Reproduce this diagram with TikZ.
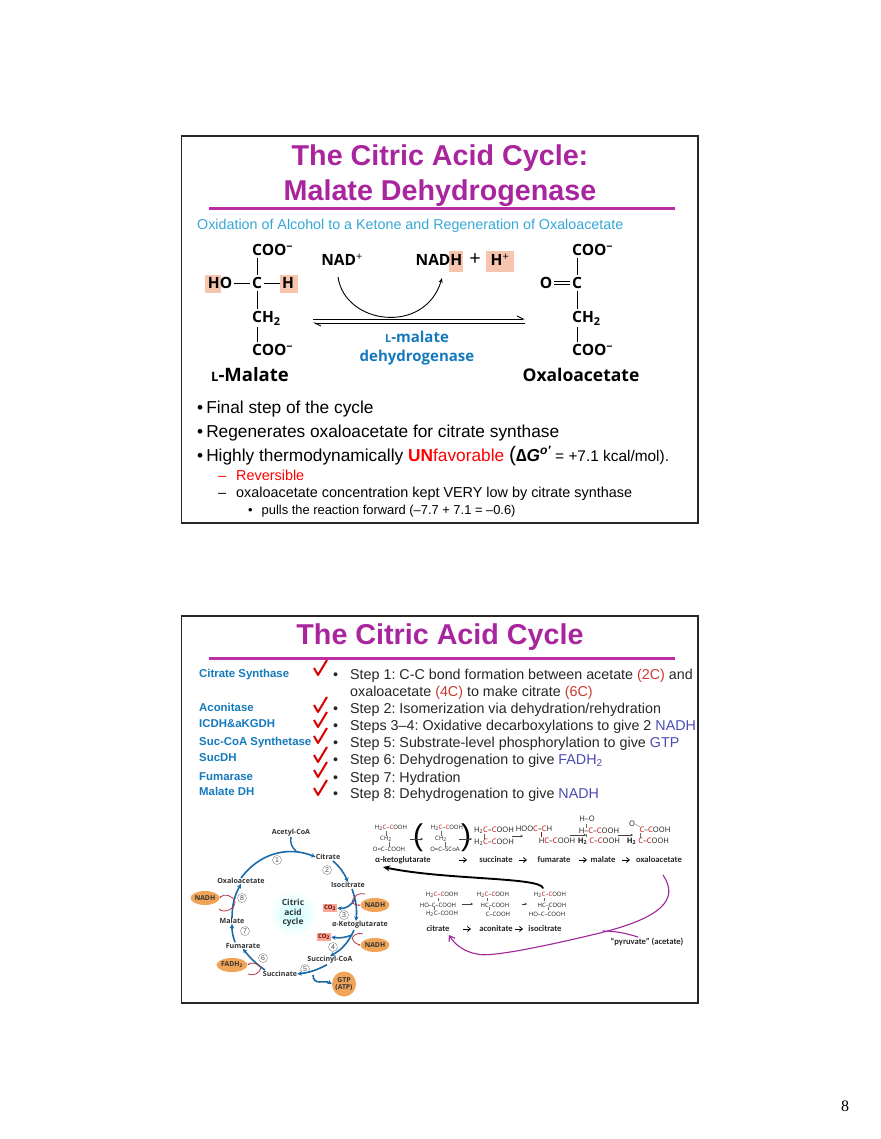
\documentclass[tikz,border=0pt]{standalone}
\usepackage{fontspec}
\setmainfont{Liberation Sans}
\newfontfamily\chemfont{Open Sans}
\newfontfamily\smallfont{Carlito}
\usetikzlibrary{arrows.meta,shapes.geometric}
\definecolor{titlecol}{HTML}{A8259E}
\definecolor{rulecol}{HTML}{B92DA8}
\definecolor{subcol}{HTML}{35A7D6}
\definecolor{enzcol}{HTML}{1479BC}
\definecolor{stepred}{HTML}{C9382E}
\definecolor{stepblue}{HTML}{4A4AB2}
\definecolor{salmon}{HTML}{F7C4AE}
\definecolor{cycblue}{HTML}{1A6AA8}
\definecolor{cycred}{HTML}{B03A50}
\definecolor{oran}{HTML}{F0A458}
\definecolor{purp}{HTML}{A0249A}
\newcommand{\px}[1]{\fontsize{#1}{#1}\selectfont}
\newcommand{\rc}{\textcolor{red!80!black}{C}}
\begin{document}
\frenchspacing
\begin{tikzpicture}[x=1pt,y=-1pt,
    slide/.style={draw=black!85,line width=1.5pt},
    bar/.style={rulecol,line width=3pt},
    title/.style={font=\px{28.7}\bfseries,text=titlecol,inner sep=0pt},
    big/.style={font=\px{17.3},anchor=base west,inner sep=0pt},
    mid/.style={font=\px{14.4},anchor=base west,inner sep=0pt},
    stp/.style={font=\px{14.3},text=black!85,anchor=base west,inner sep=0pt},
    enz/.style={font=\px{11.4}\bfseries,text=enzcol,anchor=base west,inner sep=0pt},
    chem/.style={font=\chemfont\px{15.5}\bfseries,inner sep=0pt},
    bond/.style={line width=0.9pt,shorten >=2pt,shorten <=2pt},
    patch/.style={fill=salmon,draw=none},
    check/.style={red!85!black,line width=2pt,line join=round},
    cyc/.style={cycblue,line width=1.6pt,-{Stealth[length=4.5pt,width=4.5pt]}},
    red arc/.style={cycred,line width=0.8pt},
    met/.style={font=\chemfont\px{7.1}\bfseries,text=black!80,inner sep=0pt},
    num/.style={circle,draw=black!50,line width=0.4pt,font=\px{7},text=black!70,inner sep=0pt,minimum size=9pt},
    egg/.style={ellipse,fill=oran,font=\chemfont\px{6.8}\bfseries,text=black!80,inner sep=0pt},
    cobox/.style={fill=salmon!85!red,font=\chemfont\px{6}\bfseries,text=red!40!black,inner sep=1.2pt},
    frm/.style={font=\chemfont\px{6},text=black!90,inner sep=0pt},
    frmb/.style={font=\chemfont\px{7.6},text=black!90,inner sep=0pt},
    lab/.style={font=\smallfont\px{8.6}\bfseries,text=black!85,inner sep=0pt},
    thin arrow/.style={black!75,line width=0.7pt,-{Stealth[length=2.5pt,width=2.5pt]}},
    pen/.style={purp,line width=1.1pt,line cap=round},
  ]
  \useasboundingbox (0,0) rectangle (880,1139);

  \draw[slide] (181.5,136) rectangle (698,523);
  \node[title] (ttlA) at (440,158) {\rule{0pt}{20pt}The Citric Acid Cycle:};
  \node[title] (ttlB) at (440,193) {\rule{0pt}{20pt}Malate Dehydrogenase};
  \draw[bar] (209,209)--(675,209);
  \node[font=\px{14.3},text=subcol,anchor=base west,inner sep=0pt] (sub) at (197,230) {Oxidation of Alcohol to a Ketone and Regeneration of Oxaloacetate};

  \fill[patch] (205,275) rectangle (221,293);
  \fill[patch] (280,275) rectangle (298,293);
  \fill[patch] (449,251) rectangle (463,272);
  \fill[patch] (486,251) rectangle (514,272);

  \node[chem] (malC) at (257,283) {C};
  \node[chem,anchor=west] (malTop) at (252,250) {COO\textsuperscript{−}};
  \node[chem,anchor=west] (malCH) at (252,318) {CH\textsubscript{2}};
  \node[chem,anchor=west] (malBot) at (252,350) {COO\textsuperscript{−}};
  \node[chem] (malHO) at (220,283) {HO};
  \node[chem] (malH) at (288,283) {H};
  \node[chem,font=\chemfont\px{18.5}\bfseries] (malName) at (250,375) {{\px{13}L}-Malate};
  \draw[bond] (malC.north)--(malC.north |- malTop.south);
  \draw[bond] (malC.south)--(malC.south |- malCH.north);
  \draw[bond] (malC.south |- malCH.south)--(malC.south |- malBot.north);
  \draw[bond] (malHO)--(malC);
  \draw[bond] (malC)--(malH);

  \node[chem] (oxC) at (577,283) {C};
  \node[chem,anchor=west] (oxTop) at (572,250) {COO\textsuperscript{−}};
  \node[chem,anchor=west] (oxCH) at (572,318) {CH\textsubscript{2}};
  \node[chem,anchor=west] (oxBot) at (572,350) {COO\textsuperscript{−}};
  \node[chem] (oxO) at (546,283) {O};
  \node[chem,font=\chemfont\px{17.5}\bfseries] (oxName) at (581,375) {Oxaloacetate};
  \draw[bond] (oxC.north)--(oxC.north |- oxTop.south);
  \draw[bond] (oxC.south)--(oxC.south |- oxCH.north);
  \draw[bond] (oxC.south |- oxCH.south)--(oxC.south |- oxBot.north);
  \draw[bond,double,double distance=2pt] (oxO)--(oxC);

  \node[chem] (nad) at (342,260) {NAD\textsuperscript{\mdseries +}};
  \node[chem] (nadh) at (439,260) {NADH};
  \node[chem,font=\chemfont\px{20}] (plusH) at (475,260) {+};
  \node[chem] (hplus) at (500,260) {H\textsuperscript{\mdseries +}};
  \coordinate (eqL) at (313,319);
  \coordinate (eqR) at (525,319);
  \coordinate (eqLb) at (313,323);
  \coordinate (eqRb) at (525,323);
  \coordinate (arcS) at (338,277);
  \coordinate (arcE) at (442,278);
  \draw[line width=0.9pt,-{Straight Barb[left,length=6pt,width=6pt]}] (eqL)--(eqR);
  \draw[line width=0.9pt,-{Straight Barb[left,length=6pt,width=6pt]}] (eqRb)--(eqLb);
  \draw[line width=0.9pt,-{Stealth[length=5pt,width=4pt]}] (arcS) .. controls (345,325) and (425,335) .. (arcE);
  \node[chem,text=enzcol,font=\chemfont\px{15}\bfseries] (enzA) at (417,337) {{\px{11}L}-malate};
  \node[chem,text=enzcol,font=\chemfont\px{15}\bfseries] (enzB) at (417,358) {dehydrogenase};

  \node[big] (bA) at (197,413) {•\hspace{3pt}Final step of the cycle};
  \node[big] (bB) at (197,437) {•\hspace{3pt}Regenerates oxaloacetate for citrate synthase};
  \node[big] (bC) at (197,461) {•\hspace{3pt}Highly thermodynamically \textcolor{red}{\textbf{UN}favorable} {\px{21}(}{\bfseries\itshape ∆G}\textsuperscript{\bfseries\itshape o′}{\px{15.4} = +7.1 kcal/mol).}};
  \node[mid,text=red] (bD) at (218,480) {–\hspace{10pt}Reversible};
  \node[mid] (bE) at (218,497) {–\hspace{10pt}oxaloacetate concentration kept VERY low by citrate synthase};
  \node[mid,font=\px{12.9}] (bF) at (248,514) {•\hspace{9pt}pulls the reaction forward (–7.7 + 7.1 = –0.6)};

  \draw[slide] (181.5,616) rectangle (698,1003);
  \node[title] (ttlC) at (440,637) {\rule{0pt}{20pt}The Citric Acid Cycle};
  \draw[bar] (209,658)--(675,658);

  \node[enz] (enzCS) at (199,677) {Citrate Synthase};
  \node[enz] (enzAC) at (199,711) {Aconitase};
  \node[enz] (enzIC) at (199,727) {ICDH\&aKGDH};
  \node[enz] (enzSC) at (199,745) {Suc-CoA Synthetase};
  \node[enz] (enzSD) at (199,761) {SucDH};
  \node[enz] (enzFU) at (199,780) {Fumarase};
  \node[enz] (enzMD) at (199,795) {Malate DH};
  \foreach \by in {675,712,727,743,762,777,795}
    \draw[check] (314,\by-7)--(318,\by)--(327,\by-15);

  \node[stp] (s1) at (333,679) {•\hspace{12pt}Step 1: C-C bond formation between acetate \textcolor{stepred}{(2C)} and};
  \node[stp] (s1b) at (350,696) {oxaloacetate \textcolor{stepred}{(4C)} to make citrate \textcolor{stepred}{(6C)}};
  \node[stp] (s2) at (333,713) {•\hspace{12pt}Step 2: Isomerization via dehydration/rehydration};
  \node[stp] (s3) at (333,730) {•\hspace{12pt}Steps 3–4: Oxidative decarboxylations to give 2 \textcolor{stepblue}{NADH}};
  \node[stp] (s5) at (333,747) {•\hspace{12pt}Step 5: Substrate-level phosphorylation to give \textcolor{stepblue}{GTP}};
  \node[stp] (s6) at (333,764) {•\hspace{12pt}Step 6: Dehydrogenation to give \textcolor{stepblue}{FADH\textsubscript{2}}};
  \node[stp] (s7) at (333,782) {•\hspace{12pt}Step 7: Hydration};
  \node[stp] (s8) at (333,798) {•\hspace{12pt}Step 8: Dehydrogenation to give \textcolor{stepblue}{NADH}};

  \shade[inner color=cyan!22,outer color=white] (293,913) circle[radius=24];
  \node[font=\chemfont\px{8.4}\bfseries,text=black!80,align=center,inner sep=0pt] (hub) at (293,913) {Citric\\[1pt]acid\\[1pt]cycle};
  \node[met] (acet) at (291,833) {Acetyl-CoA};
  \node[met] (citr) at (328,857) {Citrate};
  \node[met] (isoc) at (348,885) {Isocitrate};
  \node[met] (keto) at (360,925) {\textit{α}-Ketoglutarate};
  \node[met] (succoa) at (330,960) {Succinyl-CoA};
  \node[met] (succ) at (280,974) {Succinate};
  \node[met] (fuma) at (243,946) {Fumarate};
  \node[met] (mala) at (232,921) {Malate};
  \node[met] (oxal) at (241,881) {Oxaloacetate};
  \foreach \n/\x/\y in {1/277/860,2/327/870,3/344/915,4/333/947,5/305/969,6/263/958,7/245/931,8/242/898}
    \node[num] (n\n) at (\x,\y) {\n};
  \node[cobox] (coA) at (330,908) {CO\textsubscript{2}};
  \node[cobox] (coB) at (324,937) {CO\textsubscript{2}};
  \node[egg,minimum width=27pt,minimum height=14pt] (nadhA) at (375,905) {NADH};
  \node[egg,minimum width=27pt,minimum height=14pt] (nadhB) at (375,945) {NADH};
  \node[egg,minimum width=26pt,minimum height=14pt] (nadhC) at (205,898) {NADH};
  \node[egg,minimum width=28pt,minimum height=14pt] (fadh) at (232,965) {FADH\textsubscript{2}};
  \node[egg,minimum width=22pt,minimum height=25pt,align=center] (gtp) at (344,984) {GTP\\(ATP)};

  \draw[cyc] (oxal.north) to[bend left=38] (citr.west);
  \draw[cycblue,line width=1.4pt] (acet.south) to[bend right=30] (296,851);
  \draw[cyc] (citr.south) ++(5,1) to[bend left=12] (isoc.north);
  \draw[cyc] (isoc.south) ++(4,1) to[bend left=12] (356,921);
  \draw[cyc] (354,930) to[bend left=18] (succoa.north);
  \draw[cyc] (succoa.south) ++(-3,1) to[bend left=10] (succ.east);
  \draw[cyc] (succ.north) ++(-15,-1) to[bend left=8] (fuma.south);
  \draw[cyc] (fuma.north) ++(-8,-1) to[bend left=10] (mala.south);
  \draw[cyc] (mala.north) to[bend left=14] (oxal.south);
  \draw[cyc] (355,899) to[bend left=35] (coA.east);
  \draw[cyc] (352,935) to[bend left=15] (coB.east);
  \draw[cyc] (313,975) .. controls (313,986) and (325,980) .. (gtp.west);
  \draw[red arc,-{Stealth[length=2pt,width=2pt]}] (235,902) to[bend right=70] (nadhC.east);
  \draw[red arc] (235,902) to[bend left=70] (219,909);
  \draw[red arc] (365,894) to[bend right=50] (352,902);
  \draw[red arc,-{Stealth[length=2pt,width=2pt]}] (352,902) to[bend right=30] (nadhA.west);
  \draw[red arc] (363,934) to[bend right=40] (352,938);
  \draw[red arc,-{Stealth[length=2pt,width=2pt]}] (352,938) to[bend right=30] (nadhB.west);
  \draw[red arc,-{Stealth[length=2pt,width=2pt]}] (261,968) to[bend right=50] (fadh.east);
  \draw[red arc] (261,968) to[bend left=50] (248,974);

  \node[frm] (fa1) at (391,828) {H\textsubscript{2}\rc{}–\rc{}OOH};
  \node[frm] (fa2) at (386,839) {CH\textsubscript{2}};
  \node[frm] (fa3) at (389,849) {O=C–COOH};
  \node[font=\px{30},inner sep=0pt] (brL) at (418,838) {(};
  \node[frm] (fb1) at (447,828) {H\textsubscript{2}\rc{}–\rc{}OOH};
  \node[frm] (fb2) at (441,839) {CH\textsubscript{2}};
  \node[frm] (fb3) at (445,849) {O=C–SCoA};
  \node[font=\px{30},inner sep=0pt] (brR) at (466,838) {)};
  \node[frmb] (fc1) at (494,830) {H\textsubscript{2}\rc{}–\rc{}OOH};
  \node[frmb] (fc2) at (494,842) {H\textsubscript{2}\rc{}–\rc{}OOH};
  \node[frmb] (fd1) at (534,829) {HOO\rc{}–\rc{}H};
  \node[frmb] (fd2) at (557,841) {H\rc{}–\rc{}OOH};
  \node[frmb] (fe0) at (587,819) {H–O};
  \node[frmb] (fe1) at (599,831) {H–\rc{}–\rc{}OOH};
  \node[frmb] (fe2) at (599,841) {\textbf{H\textsubscript{2}} \rc{}–\rc{}OOH};
  \node[frmb] (ff0) at (632,824) {O};
  \node[frmb] (ff1) at (655,830) {\rc{}–\rc{}OOH};
  \node[frmb] (ff2) at (648,841) {\textbf{H\textsubscript{2}} \rc{}–\rc{}OOH};
  \foreach \a/\b in {fa1/fa2,fa2/fa3,fb1/fb2,fb2/fb3}
    \draw[black!60,line width=0.3pt] (\a.south -| \b)--(\b.north);
  \draw[black!60,line width=0.3pt] (fc1.south)++(-10,0)--++(0,5);
  \draw[red!70!black,line width=0.5pt,double,double distance=0.7pt] (fd1.south)++(8,0)--++(0,5);
  \draw[black!60,line width=0.3pt] (fe1.north)++(-13,-4)--++(0,4);
  \draw[black!60,line width=0.3pt] (fe1.south)++(-13,0)--++(0,3);
  \draw[black!60,line width=0.3pt] (ff1.south)++(-15,0)--++(0,5);
  \draw[black!60,line width=0.3pt] (ff0.east)--++(5,3);

  \foreach \nm/\xa/\xb/\yy in {ra/410/423/839,rb/459/472/839,rc/512/523/836,rd/570/586/835,re/618/633/835,rf/462/473/904,rg/522/527/904}{
    \coordinate (\nm s) at (\xa,\yy);
    \coordinate (\nm e) at (\xb,\yy);
    \draw[thin arrow] (\nm s)--(\nm e);
  }
  \node[lab] (lAk) at (403,860) {α-ketoglutarate};
  \node[lab] (lSu) at (496,860) {succinate};
  \node[lab] (lFu) at (554,860) {fumarate};
  \node[lab] (lMa) at (603,860) {malate};
  \node[lab] (lOx) at (659,860) {oxaloacetate};
  \node[lab] (lCi) at (438,929) {citrate};
  \node[lab] (lAc) at (496,929) {aconitate};
  \node[lab] (lIs) at (545,929) {isocitrate};
  \node[lab] (lPy) at (647,942) {“pyruvate” (acetate)};
  \foreach \x/\y in {463/860,523/860,583/860,626/860,467/929,519/929}
    \draw[line width=0.8pt,-{Straight Barb[length=3pt,width=5pt]}] (\x-4,\y)--(\x+4,\y);

  \node[frm] (ga1) at (442,895) {H\textsubscript{2}\rc{}–\rc{}OOH};
  \node[frm] (ga2) at (438,905) {HO–C–COOH};
  \node[frm] (ga3) at (442,914) {H\textsubscript{2}C–COOH};
  \node[frm] (gb1) at (493,895) {H\textsubscript{2}\rc{}–\rc{}OOH};
  \node[frm] (gb2) at (495,905) {HC–COOH};
  \node[frm] (gb3) at (498,914) {C–COOH};
  \node[frm] (gc1) at (550,895) {H\textsubscript{2}\rc{}–\rc{}OOH};
  \node[frm] (gc2) at (552,905) {HC–COOH};
  \node[frm] (gc3) at (547,914) {HO–C–COOH};
  \foreach \a/\b/\dx in {ga1/ga2/-4,ga2/ga3/-4,gb1/gb2/-6,gb2/gb3/-6,gc1/gc2/-6,gc2/gc3/-4}
    \draw[black!60,line width=0.3pt] (\a.south)++(\dx,0)--++(0,2.5);

  \coordinate (kinkA) at (543,888);
  \coordinate (kinkB) at (383,867);
  \draw[line width=1.9pt,line cap=round,-{Stealth[length=7pt,width=6pt]}] (kinkA) .. controls (540,877) and (445,880) .. (kinkB);

  \coordinate (penA) at (663,875);
  \coordinate (penB) at (449,935);
  \coordinate (penC) at (638,937);
  \coordinate (penD) at (603,931);
  \draw[pen,-{Straight Barb[length=5pt,width=7pt]}] (penA) .. controls (680,900) and (660,918) .. (600,933) .. controls (550,945) and (490,958) .. (477,954) .. controls (465,952) and (455,945) .. (penB);
  \draw[pen] (penC) .. controls (625,933) and (615,931) .. (penD);

  \node[font=\fontspec{Liberation Serif}\px{16},inner sep=0pt] (pageno) at (845,1106) {8};
\end{tikzpicture}
\end{document}
